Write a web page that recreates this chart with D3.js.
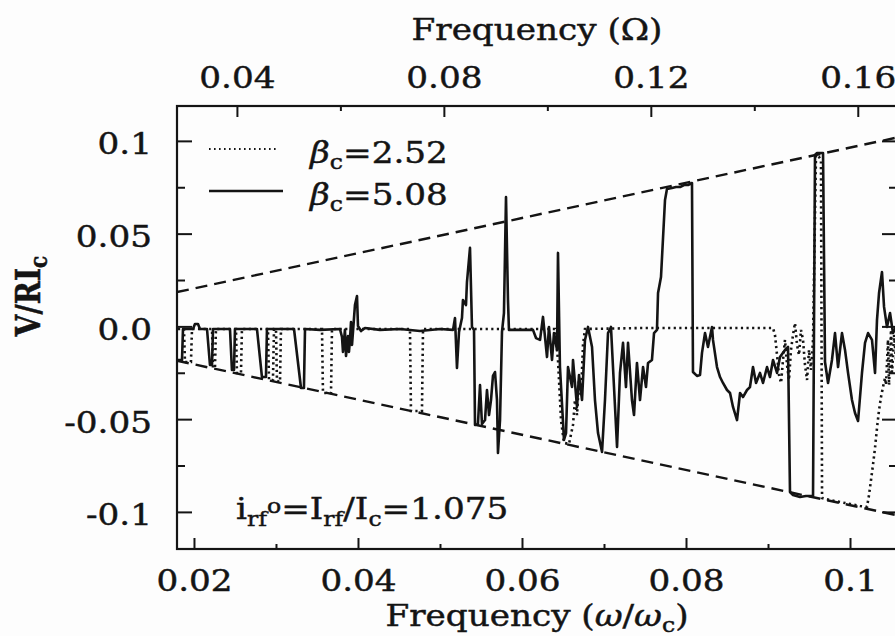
<!DOCTYPE html>
<html lang="en">
<head>
<meta charset="UTF-8">
<title>V/RIc vs frequency</title>
<style>
  body { margin: 0; background: #fff; }
  svg text { font-family: "DejaVu Serif", serif; fill: #141414; stroke: #141414; stroke-width: 0.45px; }
</style>
</head>
<body>
<svg id="chart" width="895" height="636"></svg>
<script src="https://cdn.jsdelivr.net/npm/d3@7"></script>
<script>
// axis ranges and ticks
var xDomain = [0.01793, 0.10573];
var yDomain = [-0.12, 0.1188];
var omegaFactor = 1.585;          // Omega per unit of w/wc (top axis)
var xMajor = [0.02, 0.04, 0.06, 0.08, 0.1];
var xMinor = [0.03, 0.05, 0.07, 0.09];
var topMajor = [0.04, 0.08, 0.12, 0.16];
var topMinor = [0.06, 0.10, 0.14];
var yMajor = [-0.1, -0.05, 0, 0.05, 0.1];
var yMinor = [-0.075, -0.025, 0.025, 0.075];

// first Shapiro step envelope (dashed)
var envFreq = [0.01793, 0.10573];
var envUpper = [0.0185, 0.1018];
var envLower = [-0.0185, -0.1018];

// beta_c = 5.08 (solid), [w/wc, V/RIc]
var solid = [
  [0.01805,-0.0181],[0.01854,-0.0181],[0.01866,-0.0014],[0.01988,-0.0014],[0.02012,0.0013],[0.02049,0.0013],
  [0.02073,-0.0014],[0.02159,-0.0014],[0.02195,-0.0208],[0.0222,-0.0208],[0.02232,-0.0014],
  [0.02439,-0.0014],[0.02463,-0.0235],[0.02488,-0.0235],[0.025,-0.0014],
  [0.02768,-0.0014],[0.02829,-0.0273],[0.02878,-0.0273],[0.0289,-0.0014],
  [0.0322,-0.0014],[0.03305,-0.0332],[0.03341,-0.0332],[0.03354,-0.0014],
  [0.03537,-0.0019],[0.0378,-0.0014],[0.03805,-0.0057],[0.03817,-0.0138],[0.03841,-0.0019],[0.03854,-0.016],
  [0.03878,-0.0052],[0.0389,-0.0138],[0.03902,-0.0073],[0.03915,0.0024],[0.03927,-0.01],[0.03939,-0.003],
  [0.03963,0.0115],[0.03988,0.0164],[0.04,0.0002],[0.04037,-0.0025],[0.04085,-0.0009],
  [0.04268,-0.0019],[0.04512,-0.0014],[0.04756,-0.0025],[0.05,-0.0014],[0.05159,-0.0019],
  [0.05183,0.0045],[0.05207,-0.0224],[0.05232,-0.003],[0.05268,0.0045],[0.0528,0.0142],[0.05317,0.0115],
  [0.05329,0.0239],[0.05366,0.0423],[0.0539,-0.0003],[0.05415,-0.0019],[0.05427,-0.0531],
  [0.05463,-0.0526],[0.05488,-0.0316],[0.05512,-0.0526],[0.05549,-0.0505],[0.05573,-0.0343],[0.05598,-0.0478],
  [0.05622,-0.0397],[0.05646,-0.0267],[0.05671,-0.0246],[0.05695,-0.0397],[0.05707,-0.0682],[0.05732,-0.0505],
  [0.05756,-0.003],[0.0578,0.0072],[0.05805,0.0697],[0.05829,0.0142],[0.05841,-0.0019],
  [0.05976,-0.0019],[0.06134,-0.0019],[0.06171,-0.0063],[0.0622,-0.0073],[0.06256,0.0051],[0.06305,-0.0165],
  [0.06329,-0.0003],[0.06366,-0.0181],[0.0639,-0.0036],[0.06427,-0.0127],[0.06439,0.0396],[0.06463,-0.0219],
  [0.06512,-0.0612],[0.06537,-0.0575],[0.06561,-0.0219],[0.0661,-0.0327],[0.06622,-0.0181],[0.06671,-0.0434],
  [0.06695,-0.0262],[0.06732,-0.0397],[0.06768,-0.0073],[0.06805,-0.0003],[0.06854,-0.0111],[0.0689,-0.0397],
  [0.06927,-0.0575],[0.06976,-0.0677],[0.07012,-0.0397],[0.07049,-0.0036],[0.07085,-0.0003],[0.07122,-0.0327],
  [0.07159,-0.065],[0.07195,-0.0251],[0.07232,-0.0089],[0.07268,-0.0327],[0.07293,-0.0089],[0.07341,-0.0397],
  [0.07366,-0.0478],[0.07402,-0.0197],[0.07439,-0.0397],[0.07476,-0.0219],[0.07512,-0.0327],[0.07537,-0.0197],
  [0.07585,-0.0181],[0.0761,-0.0036],[0.07646,-0.0019],[0.07659,0.018],[0.07695,0.0266],[0.07744,0.0681],
  [0.07768,0.0741],[0.07829,0.0746],[0.07878,0.0751],[0.07927,0.0751],[0.07976,0.0762],[0.08024,0.0762],
  [0.08073,0.0773],[0.08085,-0.0246],[0.08134,-0.0267],[0.08171,-0.0262],[0.08195,-0.0143],[0.08232,-0.0036],
  [0.08268,-0.0111],[0.08317,-0.0003],[0.08329,-0.0073],[0.08378,-0.0219],[0.08415,-0.0273],[0.08451,-0.0305],
  [0.085,-0.0343],[0.08537,-0.0359],[0.08573,-0.0434],[0.08622,-0.0505],[0.08659,-0.0359],[0.08695,-0.0381],
  [0.08744,-0.0343],[0.0878,-0.0327],[0.08817,-0.0219],[0.08854,-0.0305],[0.08902,-0.0251],[0.08939,-0.0305],
  [0.08988,-0.0219],[0.09024,-0.0273],[0.09061,-0.0181],[0.0911,-0.0251],[0.09146,-0.0165],[0.09207,-0.0127],
  [0.09244,-0.0111],[0.09268,-0.0893],[0.09305,-0.0909],[0.0939,-0.092],[0.09463,-0.0914],[0.09549,-0.0914],
  [0.09573,0.0924],[0.09598,0.0935],[0.09671,0.0935],[0.09695,-0.0192],[0.09732,-0.0305],[0.0978,-0.0181],
  [0.09817,-0.0036],[0.09854,-0.0219],[0.09902,-0.0036],[0.09939,-0.0127],[0.09976,-0.0251],[0.10024,-0.0397],
  [0.10061,-0.0467],[0.10098,-0.051],[0.10146,-0.0251],[0.10183,-0.0089],[0.1022,-0.0036],[0.10268,-0.0073],
  [0.10305,-0.0251],[0.10329,0.0034],[0.10354,0.018],[0.1039,0.0293],[0.10415,0.0105],[0.10451,-0.0003],
  [0.10488,0.0072],[0.10524,-0.0036],[0.10573,0.0008]
];

// beta_c = 2.52 (dotted), [w/wc, V/RIc]
var dotted = [
  [0.01805,-0.0014],[0.01878,-0.0014],[0.0189,-0.0192],[0.01963,-0.0192],[0.01976,-0.0014],
  [0.0222,-0.0014],[0.02232,-0.0224],[0.02256,-0.0224],[0.02268,-0.0014],
  [0.02512,-0.0014],[0.02524,-0.0251],[0.02573,-0.0251],[0.02585,-0.0014],
  [0.02902,-0.0014],[0.02915,-0.0289],[0.02963,-0.0289],[0.02976,-0.0014],
  [0.03,-0.0014],[0.03012,-0.0294],[0.03049,-0.03],[0.03061,-0.0014],
  [0.03561,-0.0014],[0.03573,-0.0359],[0.03671,-0.0359],[0.03683,-0.0014],
  [0.04634,-0.0014],[0.04646,-0.0456],[0.0478,-0.0456],[0.04793,-0.0014],
  [0.06402,-0.0014],[0.06439,-0.0181],[0.06476,-0.0505],[0.06512,-0.0628],[0.06573,-0.0634],[0.06622,-0.0531],
  [0.06646,-0.0397],[0.06671,-0.0478],[0.06695,-0.0289],[0.0672,-0.037],[0.06744,-0.01],[0.06768,-0.0014],
  [0.07439,-0.0009],[0.08171,-0.0009],[0.09061,-0.0009],
  [0.09085,-0.0046],[0.0911,-0.0154],[0.09134,-0.0262],[0.09159,-0.0305],[0.09183,-0.0181],[0.09207,-0.0073],
  [0.09232,-0.0208],[0.09256,-0.0289],[0.0928,-0.0127],[0.09305,-0.0046],[0.09329,0.0018],[0.09354,-0.01],
  [0.09378,-0.0154],[0.09402,-0.0019],[0.09427,-0.0073],[0.09451,-0.0208],[0.09476,-0.0289],[0.095,-0.0127],
  [0.09524,-0.0235],[0.09549,-0.0073],[0.09585,0.0924],[0.09622,0.0913],[0.09646,0.0897],[0.09659,-0.0925],
  [0.09756,-0.0936],[0.09878,-0.0947],[0.1,-0.0957],[0.10122,-0.0968],[0.10207,-0.0973],
  [0.10232,-0.0909],[0.10256,-0.0828],[0.1028,-0.0747],[0.10305,-0.0655],[0.10329,-0.0548],[0.10354,-0.0451],
  [0.10378,-0.0381],[0.10402,-0.0327],[0.10427,-0.0278],[0.10439,-0.0316],[0.10463,-0.0073],[0.10476,-0.0316],
  [0.105,-0.0019],[0.10512,-0.0262],[0.10537,-0.0046],[0.10561,-0.0181]
];

var svg = d3.select("#chart");
var pLeft = 177, pRight = 897, pTop = 106, pBottom = 549;
var sx = 1.18;   // the scanned figure is wider than it is tall
var ink = "#141414";

svg.append("rect").attr("width", 895).attr("height", 636).attr("fill", "#fdfdfd");

var x = d3.scaleLinear().domain(xDomain).range([pLeft, pRight]);
var xTop = d3.scaleLinear().domain([xDomain[0] * omegaFactor, xDomain[1] * omegaFactor]).range([pLeft, pRight]);
var y = d3.scaleLinear().domain(yDomain).range([pBottom, pTop]);

function fmt(d) { return d === 0 ? "0.0" : String(d); }

function tidy(g) {
  g.attr("font-size", 29).attr("font-family", null);
  g.select(".domain").remove();
  g.selectAll(".tick line").attr("stroke", ink).attr("stroke-width", 2);
}

// bottom axis
var gB = svg.append("g").attr("transform", "translate(0," + pBottom + ")")
  .call(d3.axisBottom(x).tickValues(xMajor).tickSize(-11).tickSizeOuter(0).tickFormat(fmt)).call(tidy);
gB.selectAll(".tick text").attr("y", 0).attr("dy", 0)
  .attr("transform", "translate(0,42) scale(" + sx + ",1)");
svg.append("g").attr("transform", "translate(0," + pBottom + ")")
  .call(d3.axisBottom(x).tickValues(xMinor).tickSize(-5).tickFormat("")).call(tidy);

// top axis (Omega)
var gT = svg.append("g").attr("transform", "translate(0," + pTop + ")")
  .call(d3.axisTop(xTop).tickValues(topMajor).tickSize(-11).tickFormat(fmt)).call(tidy);
gT.selectAll(".tick text").attr("y", 0).attr("dy", 0)
  .attr("transform", "translate(0,-18) scale(" + sx + ",1)");
svg.append("g").attr("transform", "translate(0," + pTop + ")")
  .call(d3.axisTop(xTop).tickValues(topMinor).tickSize(-5).tickFormat("")).call(tidy);

// left axis
var gL = svg.append("g").attr("transform", "translate(" + pLeft + ",0)")
  .call(d3.axisLeft(y).tickValues(yMajor).tickSize(-15).tickFormat(fmt)).call(tidy);
gL.selectAll(".tick text").attr("x", 0).attr("dy", "0.45em")
  .attr("transform", "translate(-25,0) scale(" + sx + ",1)");
svg.append("g").attr("transform", "translate(" + pLeft + ",0)")
  .call(d3.axisLeft(y).tickValues(yMinor).tickSize(-8).tickFormat("")).call(tidy);

// right axis, ticks only
svg.append("g").attr("transform", "translate(" + pRight + ",0)")
  .call(d3.axisRight(y).tickValues(yMajor).tickSize(-15).tickFormat("")).call(tidy);
svg.append("g").attr("transform", "translate(" + pRight + ",0)")
  .call(d3.axisRight(y).tickValues(yMinor).tickSize(-8).tickFormat("")).call(tidy);

// frame
svg.append("rect").attr("x", pLeft).attr("y", pTop).attr("width", pRight - pLeft).attr("height", pBottom - pTop)
  .attr("fill", "none").attr("stroke", ink).attr("stroke-width", 2.2);

svg.append("clipPath").attr("id", "plot").append("rect")
  .attr("x", pLeft).attr("y", pTop).attr("width", pRight - pLeft).attr("height", pBottom - pTop);
var plot = svg.append("g").attr("clip-path", "url(#plot)");

var line = d3.line().x(function (d) { return x(d[0]); }).y(function (d) { return y(d[1]); });

// dashed envelope
[envUpper, envLower].forEach(function (env) {
  plot.append("path")
    .attr("d", line(envFreq.map(function (f, i) { return [f, env[i]]; })))
    .attr("fill", "none").attr("stroke", ink).attr("stroke-width", 2.4)
    .attr("stroke-dasharray", "12,7");
});

plot.append("path").attr("d", line(dotted))
  .attr("fill", "none").attr("stroke", ink).attr("stroke-width", 2.6)
  .attr("stroke-dasharray", "2.2,3.4");

plot.append("path").attr("d", line(solid))
  .attr("fill", "none").attr("stroke", ink).attr("stroke-width", 2.6)
  .attr("stroke-linejoin", "round");

// text helpers
function label(x0, y0, anchor) {
  return svg.append("text")
    .attr("transform", "translate(" + x0 + "," + y0 + ") scale(" + sx + ",1)")
    .attr("text-anchor", anchor || "start").attr("font-size", 29);
}

// legend
svg.append("line").attr("x1", 209).attr("x2", 277).attr("y1", 149).attr("y2", 149)
  .attr("stroke", ink).attr("stroke-width", 2.2).attr("stroke-dasharray", "1.6,3.4");
svg.append("line").attr("x1", 209).attr("x2", 283).attr("y1", 191).attr("y2", 191)
  .attr("stroke", ink).attr("stroke-width", 2.4);

[["2.52", 163], ["5.08", 205]].forEach(function (d) {
  var t = label(310, d[1]);
  t.append("tspan").attr("font-style", "italic").text("β");
  t.append("tspan").attr("font-size", 20).attr("dy", 6).text("c");
  t.append("tspan").attr("dy", -6).text("=" + d[0]);
});

// drive amplitude note
var note = label(236, 519);
note.append("tspan").text("i");
note.append("tspan").attr("font-size", 20).attr("dy", 7).text("rf");
note.append("tspan").attr("font-size", 20).attr("dy", -13).text("o");
note.append("tspan").attr("dy", 6).text("=I");
note.append("tspan").attr("font-size", 20).attr("dy", 7).text("rf");
note.append("tspan").attr("dy", -7).text("/I");
note.append("tspan").attr("font-size", 20).attr("dy", 7).text("c");
note.append("tspan").attr("dy", -7).text("=1.075");

// axis titles
label(537, 40, "middle").text("Frequency (Ω)");

var xt = label(537, 626, "middle");
xt.append("tspan").text("Frequency (");
xt.append("tspan").attr("font-style", "italic").text("ω");
xt.append("tspan").text("/");
xt.append("tspan").attr("font-style", "italic").text("ω");
xt.append("tspan").attr("font-size", 20).attr("dy", 6).text("c");
xt.append("tspan").attr("dy", -6).text(")");

var yt = svg.append("text")
  .attr("transform", "translate(40,296) scale(" + sx + ",1) rotate(-90)")
  .attr("text-anchor", "middle").attr("font-size", 28).attr("font-weight", "bold");
yt.append("tspan").text("V/RI");
yt.append("tspan").attr("font-size", 20).attr("dy", 6).text("c");
</script>
</body>
</html>
